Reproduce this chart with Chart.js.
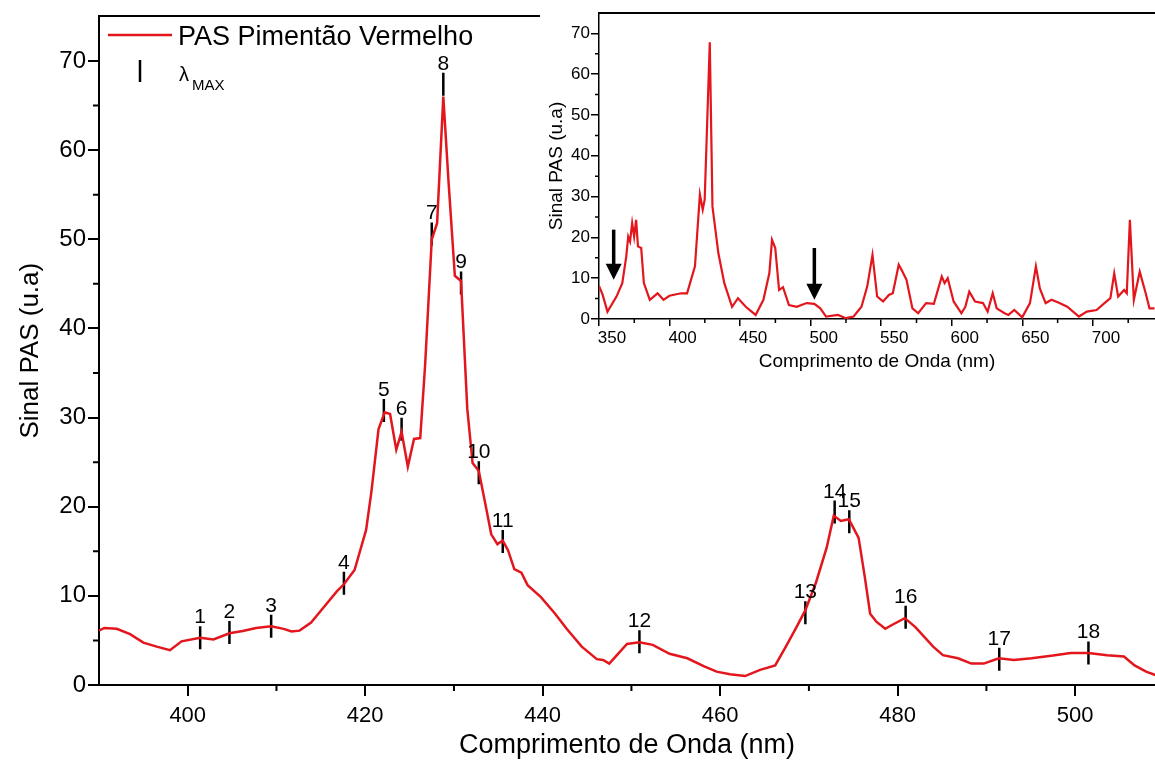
<!DOCTYPE html>
<html>
<head>
<meta charset="utf-8">
<script src="https://cdn.jsdelivr.net/npm/chart.js@4.4.1/dist/chart.umd.min.js"></script>
<style>
body{margin:0;background:#fff;}
#wrap{position:relative;width:1155px;height:764px;overflow:hidden;}
#main{position:absolute;left:0;top:0;}
#inset{position:absolute;left:540px;top:0;background:#fff;}
</style>
</head>
<body>
<div id="wrap">
<canvas id="main" width="1155" height="764"></canvas>
<canvas id="inset" width="615" height="380"></canvas>
</div>
<script>
// main spectrum (nm, signal)
var mainNm = [390, 390.6, 392, 393.5, 395, 396.5, 398, 399.3, 401.4, 402.9, 404.7, 406.2, 407.7, 409.4, 410.8, 411.7, 412.6, 413.9, 415.3, 416.8,
  417.6, 418.8, 420.1, 420.7, 421.5, 422.2, 422.8, 423.5, 424.1, 424.8, 425.5, 426.2, 426.75, 427.5, 428.1, 428.8, 429.4, 430.1, 430.8, 431.5,
  432.1, 432.8, 433.7, 434.2, 434.9, 435.5, 436.1, 436.8, 437.6, 438.3, 439.8, 441.4, 442.7, 444.4, 446.1, 446.8, 447.5, 449.5, 450.9, 452.4,
  454.3, 456.3, 458.2, 459.6, 461.1, 462.8, 464.5, 466.2, 467.4, 468.6, 469.6, 470.8, 472.0, 472.8, 473.6, 474.5, 475.6, 476.3, 476.9, 477.6,
  478.6, 479.3, 480.8, 482.0, 484.0, 485.1, 486.8, 488.3, 489.7, 491.4, 493.1, 495.1, 497.5, 499.5, 501.5, 503.6, 505.5, 506.7, 508.0, 509.1];
var mainSig = [6.1, 6.4, 6.3, 5.7, 4.75, 4.3, 3.9, 4.9, 5.3, 5.1, 5.8, 6.05, 6.4, 6.6, 6.3, 6.0, 6.1, 7.0, 8.7, 10.5,
  11.3, 12.9, 17.4, 21.7, 28.7, 30.6, 30.4, 26.4, 28.4, 24.5, 27.6, 27.7, 35.9, 50.0, 51.8, 66.0, 56.3, 45.9, 45.3, 31.0,
  24.9, 24.0, 19.5, 16.9, 15.8, 16.2, 15.1, 13.0, 12.6, 11.2, 9.85, 8.0, 6.3, 4.3, 2.9, 2.8, 2.4, 4.6, 4.8, 4.5,
  3.5, 3.0, 2.1, 1.5, 1.2, 1.0, 1.7, 2.2, 4.3, 6.5, 8.4, 11.5, 15.4, 19.0, 18.4, 18.6, 16.5, 12.1, 8.0, 7.1,
  6.3, 6.7, 7.5, 6.5, 4.3, 3.35, 3.0, 2.4, 2.4, 3.0, 2.8, 3.0, 3.3, 3.6, 3.6, 3.35, 3.2, 2.2, 1.5, 1.1];

// lambda max marks
var peakNm = [401.4, 404.7, 409.4, 417.6, 422.1, 424.1, 427.5, 428.8, 430.8, 432.8, 435.5, 450.9, 469.6, 472.9, 474.55, 480.9, 491.45, 501.5];
var peakSig = [5.3, 5.9, 6.6, 11.4, 30.8, 28.7, 50.6, 67.4, 45.1, 23.8, 16.1, 4.85, 8.1, 19.4, 18.3, 7.6, 2.9, 3.6];
var peakLbl = ['1', '2', '3', '4', '5', '6', '7', '8', '9', '10', '11', '12', '13', '14', '15', '16', '17', '18'];

var mainXTicks = [400, 420, 440, 460, 480, 500];
var mainXMinor = [410, 430, 450, 470, 490];
var mainYTicks = [0, 10, 20, 30, 40, 50, 60, 70];
var mainYMinor = [5, 15, 25, 35, 45, 55, 65];

// inset: full spectrum
var insetNm = [350, 352.6, 356, 362.4, 366.5, 369.3, 370.7, 372, 373.5, 374.9,
  376.3, 377.6, 379.9, 381.8, 386, 391.5, 395.7, 399.9, 408.2, 412.4,
  418, 421.5, 423.5, 424.9, 428.5, 430.4, 434.6, 438.8, 444.3, 448.5,
  454, 461, 466.5, 470.7, 472.6, 474.9, 477.6, 480.4, 484.6, 490.1,
  497.1, 502.6, 506.8, 510.9, 519.3, 524.9, 530.4, 536, 540.1, 543.8,
  547.1, 551.3, 555.4, 558.2, 562.4, 565.1, 567.9, 572.1, 576.2, 581.8,
  587.3, 592.9, 594.9, 597.1, 601.3, 606.8, 609.6, 612.4, 616.5, 622.1,
  625.4, 629, 631.8, 637.4, 640.1, 644.3, 649.9, 655.4, 659.6, 662.4,
  666.5, 670.7, 676.3, 681.8, 690.1, 695.7, 702.6, 708.2, 712.4, 715.1,
  717.9, 722.1, 724.0, 726.2, 729.0, 733.2, 737.4, 740.1, 743.7];
var insetSig = [8.1, 5.9, 1.8, 5.5, 8.8, 15.3, 20.2, 19, 23.5, 20.2,
  24.3, 17.8, 17.4, 8.8, 4.7, 6.3, 4.7, 5.7, 6.3, 6.3,
  12.9, 30.5, 26.8, 29.3, 67.8, 27.6, 16.1, 8.8, 3.0, 5.1,
  3.0, 1.0, 4.7, 11.2, 19.4, 17.4, 7.1, 7.8, 3.4, 3.0,
  3.9, 3.7, 2.6, 0.6, 1.0, 0.2, 0.6, 3.0, 8.0, 15.7,
  5.5, 4.3, 5.9, 6.3, 13.3, 11.6, 9.6, 2.6, 1.4, 3.9,
  3.7, 10.4, 8.8, 10.0, 4.3, 1.4, 3.0, 6.7, 4.3, 3.9,
  1.8, 6.3, 2.6, 1.4, 1.0, 2.2, 0.4, 3.9, 12.9, 7.5,
  3.9, 4.7, 3.9, 3.0, 0.6, 1.8, 2.2, 3.9, 5.1, 11.2,
  5.5, 7.1, 6.3, 24.3, 4.7, 11.6, 6.3, 2.6, 2.6];
var insetXTicks = [350, 400, 450, 500, 550, 600, 650, 700];
var insetXMinor = [375, 425, 475, 525, 575, 625, 675, 725];
var insetYTicks = [0, 10, 20, 30, 40, 50, 60, 70];
var insetYMinor = [5, 15, 25, 35, 45, 55, 65];
var arrowNm = [360.4, 502.6];
var arrowTop = [21.9, 17.4];
var arrowTip = [9.6, 4.7];

var RED = '#e3161d';
var FONT = '"Liberation Sans", Arial, sans-serif';

function pts(xs, ys) {
  return xs.map(function (x, i) { return {x: x, y: ys[i]}; });
}
function setTicks(vals) {
  return function (s) { s.ticks = vals.map(function (v) { return {value: v}; }); };
}

// short ticks between the labelled ones
var minorTicks = {
  id: 'minorTicks',
  afterDraw: function (chart, args, o) {
    var ctx = chart.ctx, a = chart.chartArea, xs = chart.scales.x, ys = chart.scales.y;
    ctx.save();
    ctx.strokeStyle = '#000';
    ctx.lineWidth = o.width;
    ctx.beginPath();
    o.x.forEach(function (v) {
      var p = xs.getPixelForValue(v);
      ctx.moveTo(p, a.bottom);
      ctx.lineTo(p, a.bottom + o.len);
    });
    o.y.forEach(function (v) {
      var p = ys.getPixelForValue(v);
      ctx.moveTo(a.left, p);
      ctx.lineTo(a.left - o.len, p);
    });
    ctx.stroke();
    ctx.restore();
  }
};

var peakText = {
  id: 'peakText',
  afterDatasetsDraw: function (chart) {
    var ctx = chart.ctx;
    var meta = chart.getDatasetMeta(1);
    ctx.save();
    ctx.fillStyle = '#000';
    ctx.font = '21px ' + FONT;
    ctx.textAlign = 'center';
    ctx.textBaseline = 'alphabetic';
    meta.data.forEach(function (p, i) {
      ctx.fillText(peakLbl[i], p.x, p.y - 14.5);
    });
    ctx.restore();
  }
};

var legendBox = {
  id: 'legendBox',
  afterDraw: function (chart) {
    var ctx = chart.ctx;
    ctx.save();
    ctx.strokeStyle = RED;
    ctx.lineWidth = 2.5;
    ctx.beginPath();
    ctx.moveTo(108, 35);
    ctx.lineTo(172, 35);
    ctx.stroke();
    ctx.strokeStyle = '#000';
    ctx.beginPath();
    ctx.moveTo(140, 60);
    ctx.lineTo(140, 82);
    ctx.stroke();
    ctx.fillStyle = '#000';
    ctx.font = '27px ' + FONT;
    ctx.fillText('PAS Pimentão Vermelho', 178, 45);
    ctx.font = '20px ' + FONT;
    ctx.fillText('λ', 179, 81);
    ctx.font = '15px ' + FONT;
    ctx.fillText('MAX', 192, 90);
    ctx.restore();
  }
};

var arrows = {
  id: 'arrows',
  afterDatasetsDraw: function (chart) {
    var ctx = chart.ctx, xs = chart.scales.x, ys = chart.scales.y;
    ctx.save();
    ctx.fillStyle = '#000';
    ctx.strokeStyle = '#000';
    ctx.lineWidth = 3.5;
    arrowNm.forEach(function (v, i) {
      var px = xs.getPixelForValue(v);
      var top = ys.getPixelForValue(arrowTop[i]);
      var tip = ys.getPixelForValue(arrowTip[i]);
      ctx.beginPath();
      ctx.moveTo(px, top);
      ctx.lineTo(px, tip - 12);
      ctx.stroke();
      ctx.beginPath();
      ctx.moveTo(px - 8, tip - 16);
      ctx.lineTo(px + 8, tip - 16);
      ctx.lineTo(px, tip);
      ctx.closePath();
      ctx.fill();
    });
    ctx.restore();
  }
};

function axisX(min, max, tickVals, tickLen, bw, fontSize, pad, h, title) {
  return {
    type: 'linear', position: 'bottom', min: min, max: max,
    afterBuildTicks: setTicks(tickVals),
    afterFit: function (s) { s.height = h; },
    grid: {drawOnChartArea: false, color: '#000', tickLength: tickLen, lineWidth: bw},
    border: {color: '#000', width: bw},
    ticks: {color: '#000', font: {family: FONT, size: fontSize}, padding: pad, maxRotation: 0, autoSkip: false},
    title: title
  };
}

new Chart(document.getElementById('main'), {
  type: 'line',
  data: {
    datasets: [{
      label: 'PAS Pimentão Vermelho',
      data: pts(mainNm, mainSig),
      borderColor: RED, borderWidth: 2.5, pointRadius: 0, tension: 0
    }, {
      label: 'λMAX',
      data: pts(peakNm, peakSig),
      showLine: false, pointStyle: 'line', rotation: 90, pointRadius: 11.5,
      borderColor: '#000', borderWidth: 2.5
    }]
  },
  options: {
    responsive: false, animation: false, devicePixelRatio: 1,
    layout: {padding: 0, autoPadding: false},
    plugins: {
      legend: {display: false}, tooltip: {enabled: false},
      minorTicks: {x: mainXMinor, y: mainYMinor, len: 6, width: 2}
    },
    scales: {
      x: axisX(390, 509, mainXTicks, 11, 2, 22, 7, 79,
        {display: true, text: 'Comprimento de Onda (nm)', color: '#000', font: {family: FONT, size: 27}, padding: {top: 0, bottom: 2}}),
      xTop: {
        type: 'linear', position: 'top', min: 390, max: 509,
        afterFit: function (s) { s.height = 13; },
        grid: {display: false}, ticks: {display: false},
        border: {display: true, color: '#000', width: 2}
      },
      y: {
        type: 'linear', position: 'left', min: 0, max: 75,
        afterBuildTicks: setTicks(mainYTicks),
        afterFit: function (s) { s.width = 99; },
        grid: {drawOnChartArea: false, color: '#000', tickLength: 11, lineWidth: 2},
        border: {color: '#000', width: 2},
        ticks: {color: '#000', font: {family: FONT, size: 24}, padding: 2},
        title: {display: true, text: 'Sinal PAS (u.a)', color: '#000', font: {family: FONT, size: 26}, padding: {top: 15, bottom: 0}}
      }
    }
  },
  plugins: [minorTicks, peakText, legendBox]
});

new Chart(document.getElementById('inset'), {
  type: 'line',
  data: {
    datasets: [{
      label: 'PAS',
      data: pts(insetNm, insetSig),
      borderColor: RED, borderWidth: 2.2, pointRadius: 0, tension: 0
    }]
  },
  options: {
    responsive: false, animation: false, devicePixelRatio: 1,
    layout: {padding: 0, autoPadding: false},
    plugins: {
      legend: {display: false}, tooltip: {enabled: false},
      minorTicks: {x: insetXMinor, y: insetYMinor, len: 4, width: 1.5}
    },
    scales: {
      x: (function () {
        var ax = axisX(350, 744, insetXTicks, 7, 1.5, 17, 2, 61,
          {display: true, text: 'Comprimento de Onda (nm)', color: '#000', font: {family: FONT, size: 19}, padding: {top: 0, bottom: 7}});
        ax.ticks.labelOffset = 13;
        return ax;
      })(),
      xTop: {
        type: 'linear', position: 'top', min: 350, max: 744,
        afterFit: function (s) { s.height = 13; },
        grid: {display: false}, ticks: {display: false},
        border: {display: true, color: '#000', width: 2}
      },
      y: {
        type: 'linear', position: 'left', min: 0, max: 75,
        afterBuildTicks: setTicks(insetYTicks),
        afterFit: function (s) { s.width = 59; },
        grid: {drawOnChartArea: false, color: '#000', tickLength: 8, lineWidth: 1.5},
        border: {color: '#000', width: 1.5},
        ticks: {color: '#000', font: {family: FONT, size: 17}, padding: 1},
        title: {display: true, text: 'Sinal PAS (u.a)', color: '#000', font: {family: FONT, size: 19}, padding: {top: 5, bottom: 0}}
      }
    }
  },
  plugins: [minorTicks, arrows]
});
</script>
</body>
</html>
